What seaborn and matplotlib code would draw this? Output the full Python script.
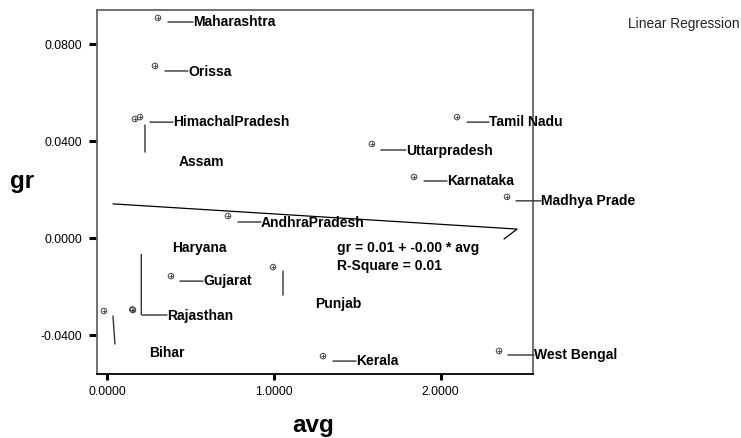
import pandas as pd
import matplotlib.pyplot as plt
import seaborn as sns
from matplotlib.transforms import offset_copy

# Data
states = ['Maharashtra', 'Orissa', 'HimachalPradesh', 'Assam', 'Tamil Nadu',
          'Uttarpradesh', 'Karnataka', 'Madhya Prade', 'AndhraPradesh', 'Haryana',
          'Rajasthan', 'Gujarat', 'Punjab', 'Bihar', 'Kerala', 'West Bengal']
avg = [0.304, 0.286, 0.196, 0.166, 2.098, 1.587, 1.840, 2.398, 0.724, 0.150,
       0.154, 0.382, 0.994, -0.020, 1.294, 2.350]
gr = [0.0909, 0.0711, 0.0500, 0.0492, 0.0500, 0.0389, 0.0253, 0.0171, 0.0092, -0.0294,
      -0.0296, -0.0156, -0.0119, -0.0300, -0.0486, -0.0465]

# fitted line as drawn (incl. the small hook at the end)
fit_avg = [0.034, 2.458, 2.380]
fit_gr = [0.0142, 0.0038, -0.0003]

x_ticks = [0.0, 1.0, 2.0]
y_ticks = [-0.04, 0.0, 0.04, 0.08]

df = pd.DataFrame({'state': states, 'avg': avg, 'gr': gr})

# label placement in pixels relative to the point: text offset, leader start, leader end
label_pos = {
    'Maharashtra':     ((35, -4), (10, -4), (35, -4)),
    'Orissa':          ((33, -6), (10, -5), (33, -5)),
    'HimachalPradesh': ((33, -5), (10, -5), (33, -5)),
    'Assam':           ((44, -43), (10, -6), (10, -33)),
    'Tamil Nadu':      ((32, -5), (10, -5), (32, -5)),
    'Uttarpradesh':    ((34, -7), (9, -6), (34, -6)),
    'Karnataka':       ((33, -4), (10, -4), (33, -4)),
    'Madhya Prade':    ((34, -4), (9, -4), (34, -4)),
    'AndhraPradesh':   ((33, -7), (10, -6), (33, -6)),
    'Haryana':         ((40, 62), (9, 55), (9, -5)),
    'Rajasthan':       ((34, -6), (9, -5), (34, -5)),
    'Gujarat':         ((32, -5), (9, -5), (32, -5)),
    'Punjab':          ((42, -37), (10, -4), (10, -28)),
    'Bihar':           ((45, -42), (9, -5), (11, -33)),
    'Kerala':          ((33, -5), (10, -5), (33, -5)),
    'West Bengal':     ((35, -4), (9, -4), (35, -4)),
}

sns.set_theme(style='white')
plt.rcParams['font.family'] = ['Liberation Sans', 'DejaVu Sans']
plt.rcParams['text.color'] = 'black'

fig = plt.figure(figsize=(7.41, 4.38), dpi=100)
ax = fig.add_axes([0.1309, 0.1461, 0.5884, 0.8311])

# markers: circle with a cross
sns.scatterplot(data=df, x='avg', y='gr', ax=ax, marker='o', s=16,
                facecolor='none', edgecolor='#444444', linewidth=0.7, zorder=3)
ax.scatter(df['avg'], df['gr'], marker='+', s=12, color='#444444', linewidths=0.6, zorder=3)

sns.lineplot(x=fit_avg, y=fit_gr, sort=False, ax=ax, color='black', lw=0.9)

for name, xv, yv in zip(states, avg, gr):
    (tx, ty), (s0, s1), (e0, e1) = label_pos[name]
    ax.annotate(name, xy=(xv, yv), xytext=(tx, ty), textcoords='offset pixels',
                ha='left', va='center', fontsize=10, fontweight='bold', color='black')
    ax.annotate('', xy=(xv, yv), xytext=(xv, yv),
                xycoords=offset_copy(ax.transData, fig=fig, x=e0, y=e1, units='dots'),
                textcoords=offset_copy(ax.transData, fig=fig, x=s0, y=s1, units='dots'),
                arrowprops=dict(arrowstyle='-', shrinkA=0, shrinkB=0, lw=1.0, color='#333333'))

ax.set_xlim(-0.0618, 2.5537)
ax.set_ylim(-0.0560, 0.0942)
ax.set_xticks(x_ticks)
ax.set_yticks(y_ticks)
ax.set_xticklabels([f'{v:.4f}' for v in x_ticks])
ax.set_yticklabels([f'{v:.4f}' for v in y_ticks])
ax.tick_params(axis='y', length=6, width=2.2, pad=4.5, labelsize=8.7, colors='black', left=True)
ax.tick_params(axis='x', length=4.3, width=2.2, pad=4, labelsize=8.7, colors='black', bottom=True)
ax.set_xlabel('')
ax.set_ylabel('')
for side in ['left', 'top', 'right']:
    ax.spines[side].set_color('#666666')
    ax.spines[side].set_linewidth(1.3)
ax.spines['bottom'].set_color('black')
ax.spines['bottom'].set_linewidth(1.3)

fig.text(0.4548, 0.4338, 'gr = 0.01 + -0.00 * avg', fontsize=10, fontweight='bold', va='center')
fig.text(0.4548, 0.3927, 'R-Square = 0.01', fontsize=10, fontweight='bold', va='center')
fig.text(0.8475, 0.945, 'Linear Regression', fontsize=9.9, va='center', color='#222222')
fig.text(0.0297, 0.5845, 'gr', fontsize=17.5, fontweight='bold', ha='center', va='center')
fig.text(0.4224, 0.0274, 'avg', fontsize=17.5, fontweight='bold', ha='center', va='center')

fig.savefig('out.png', dpi=100)
